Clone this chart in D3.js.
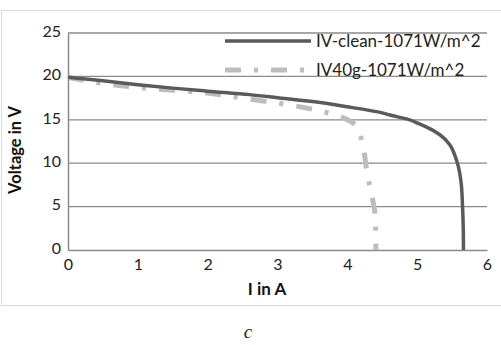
<!DOCTYPE html>
<html>
<head>
<meta charset="utf-8">
<script src="https://cdn.jsdelivr.net/npm/d3@7"></script>
<style>
  html, body { margin: 0; padding: 0; background: #fff; }
  svg { display: block; }
</style>
</head>
<body>
<svg id="chart" width="501" height="345"></svg>
<script>
// IV curves
const cleanCurrent = [0, 0.5, 1, 1.5, 2, 2.6, 3, 3.5, 4, 4.5, 4.61, 4.85, 5.04, 5.2, 5.33, 5.47, 5.54, 5.59, 5.63, 5.65, 5.66, 5.663];
const cleanVoltage = [19.9, 19.5, 19.05, 18.65, 18.3, 17.9, 17.55, 17.1, 16.5, 15.8, 15.55, 15.1, 14.5, 13.9, 13.25, 12.1, 10.9, 9.6, 7.7, 5.0, 2.5, 0];
const dirtyCurrent = [0, 0.5, 1.17, 1.84, 2.5, 3.18, 3.83, 4.13, 4.23, 4.28, 4.35, 4.4, 4.41];
const dirtyVoltage = [19.9, 19.2, 18.6, 18.2, 17.5, 16.7, 15.55, 14.2, 11.7, 9.0, 6.3, 3.8, 0];
const seriesNames = ['IV-clean-1071W/m^2', 'IV40g-1071W/m^2'];
const xTicks = [0, 1, 2, 3, 4, 5, 6];
const yTicks = [0, 5, 10, 15, 20, 25];

const font = 'Lato, "Open Sans", sans-serif';
const svg = d3.select('#chart');

const x = d3.scaleLinear().domain([0, 6]).range([68, 487]);
const y = d3.scaleLinear().domain([0, 25]).range([250, 33]);

// outer frame
svg.append('path')
  .attr('d', 'M501,10.5 H1.5 V305.5 H501')
  .attr('fill', 'none')
  .attr('stroke', '#d9d9d9')
  .attr('stroke-width', 1);

// horizontal gridlines
svg.append('g').selectAll('line')
  .data(yTicks.filter(d => d > 0))
  .join('line')
  .attr('x1', x(0)).attr('x2', x(6))
  .attr('y1', d => y(d)).attr('y2', d => y(d))
  .attr('stroke', '#8a8a8a')
  .attr('stroke-width', 1.3);

// axes
const yAxis = svg.append('g')
  .attr('transform', `translate(${x(0)},0)`)
  .call(d3.axisLeft(y).tickValues(yTicks).tickFormat(d3.format('d')).tickSize(0).tickPadding(7));
const xAxis = svg.append('g')
  .attr('transform', `translate(0,${y(0)})`)
  .call(d3.axisBottom(x).tickValues(xTicks).tickFormat(d3.format('d')).tickSize(0).tickPadding(9));
[xAxis, yAxis].forEach(a => {
  a.select('.domain').attr('stroke', '#8a8a8a').attr('stroke-width', 1.5);
  a.selectAll('text').attr('font-family', font).attr('font-size', 16).attr('fill', '#222');
});
yAxis.selectAll('text').attr('dy', '0.2em');

// series
const cleanPts = cleanCurrent.map((c, i) => [x(c), y(cleanVoltage[i])]);
const dirtyPts = dirtyCurrent.map((c, i) => [x(c), y(dirtyVoltage[i])]);
const dirtyStyle = { stroke: '#bdbdbd', width: 5, dash: '16,13,4,13' };
const cleanStyle = { stroke: '#5a5a5a', width: 3.5, dash: null };
const line = d3.line().curve(d3.curveMonotoneY);

svg.append('path')
  .attr('d', line(dirtyPts))
  .attr('fill', 'none')
  .attr('stroke', dirtyStyle.stroke)
  .attr('stroke-width', dirtyStyle.width)
  .attr('stroke-dasharray', dirtyStyle.dash);

svg.append('path')
  .attr('d', line(cleanPts))
  .attr('fill', 'none')
  .attr('stroke', cleanStyle.stroke)
  .attr('stroke-width', cleanStyle.width);

// legend
const legend = svg.append('g');
[cleanStyle, dirtyStyle].forEach((s, i) => {
  const ly = 41 + i * 29;
  legend.append('line')
    .attr('x1', 225).attr('x2', 311)
    .attr('y1', ly).attr('y2', ly)
    .attr('stroke', s.stroke)
    .attr('stroke-width', s.width)
    .attr('stroke-dasharray', s.dash);
  legend.append('text')
    .attr('x', 316).attr('y', ly)
    .attr('dy', '0.35em')
    .attr('font-family', font)
    .attr('font-size', 17)
    .attr('fill', '#222')
    .text(seriesNames[i]);
});

// axis titles
svg.append('text')
  .attr('transform', 'translate(21,150) rotate(-90)')
  .attr('text-anchor', 'middle')
  .attr('font-family', font)
  .attr('font-weight', 'bold')
  .attr('font-size', 16.5)
  .attr('fill', '#111')
  .text('Voltage in V');
svg.append('text')
  .attr('x', 267).attr('y', 295)
  .attr('text-anchor', 'middle')
  .attr('font-family', font)
  .attr('font-weight', 'bold')
  .attr('font-size', 17)
  .attr('fill', '#111')
  .text('I in A');

// caption
svg.append('text')
  .attr('x', 248).attr('y', 338)
  .attr('text-anchor', 'middle')
  .attr('font-family', '"Liberation Serif", "DejaVu Serif", serif')
  .attr('font-style', 'italic')
  .attr('font-size', 19)
  .attr('fill', '#222')
  .text('c');
</script>
</body>
</html>
